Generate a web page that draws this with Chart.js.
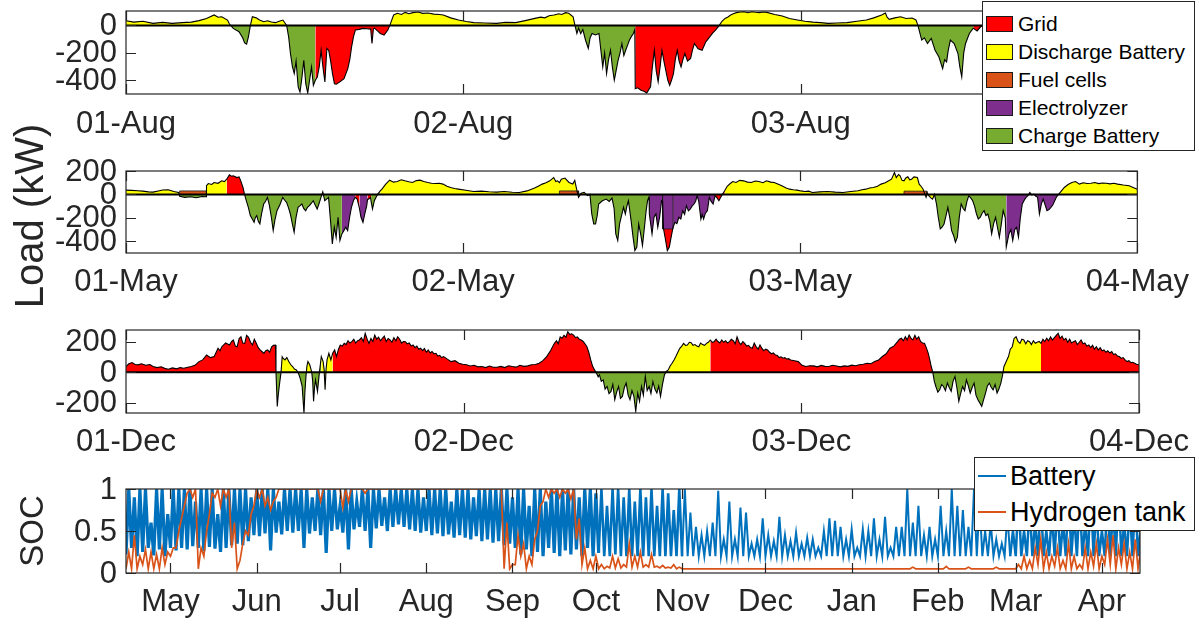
<!DOCTYPE html>
<html>
<head>
<meta charset="utf-8">
<title>Load by source and storage SOC</title>
<script src="https://cdn.jsdelivr.net/npm/chart.js@4.4.1/dist/chart.umd.min.js"></script>
<style>
  body { margin: 0; background: #fff; }
  #page { position: relative; width: 1200px; height: 621px; overflow: hidden;
          font-family: "Liberation Sans", Arial, sans-serif; }
  #page canvas { position: absolute; left: 0; }
  .ylab { position: absolute; transform: translate(-50%, -50%) rotate(-90deg);
          white-space: nowrap; color: #262626; line-height: 1; }
  .legend { position: absolute; background: #fff; border: 1px solid #262626;
            box-sizing: border-box; z-index: 5; color: #000; }
  .legend .row { position: absolute; left: 0; height: 30px; display: flex; align-items: center; white-space: nowrap; }
  .legend .patch { width: 27px; height: 16px; border: 1px solid #1a1a1a; box-sizing: border-box; margin-left: 3px; margin-right: 5px; }
  .legend .swatch { width: 28px; height: 2px; margin-left: 3px; margin-right: 4px; }
</style>
</head>
<body>
<div id="page">
  <canvas id="augChart" width="1200" height="157" style="top:-7px"></canvas>
  <canvas id="mayChart" width="1200" height="156" style="top:153px"></canvas>
  <canvas id="decChart" width="1200" height="157" style="top:312px"></canvas>
  <canvas id="socChart" width="1200" height="158" style="top:471px"></canvas>
  <div class="ylab" style="left:29px; top:216px; font-size:40px;">Load (kW)</div>
  <div class="ylab" style="left:31px; top:531px; font-size:33px;">SOC</div>
  <div class="legend" id="sourceLegend" style="left:982px; top:1px; width:213px; height:150px;"></div>
  <div class="legend" id="socLegend" style="left:974px; top:457px; width:221px; height:74px;"></div>
</div>

<script>
/* ================= DATA ================= */

// energy sources (legend order)
const sourceKeys = ['R', 'Y', 'F', 'P', 'G'];
const sourceNames = ['Grid', 'Discharge Battery', 'Fuel cells', 'Electrolyzer', 'Charge Battery'];
const sourceColors = ['#FF0000', '#FFFF00', '#D95319', '#7E2F8E', '#77AC30'];

// day tick labels, hours from start of window
const dayTickHours = [0, 24, 48, 72];
const augDays = ['01-Aug', '02-Aug', '03-Aug', '04-Aug'];
const mayDays = ['01-May', '02-May', '03-May', '04-May'];
const decDays = ['01-Dec', '02-Dec', '03-Dec', '04-Dec'];

// net load [hour, kW]
const augLoad = [[0,34],[0.56,24],[1.2,30],[1.92,15],[2.6,22],[3.28,15],[4,20],[4.64,24],[5.2,35],[5.73,51],[6.27,76],[6.55,60],[6.81,63],[7.22,39],[7.36,10],[7.63,-22],[8.04,-46],[8.3,-90],[8.44,-127],[8.58,-137],[8.71,-83],[8.85,0],[8.99,63],[9.26,55],[9.5,40],[9.8,27],[10.07,34],[10.35,25],[10.62,20],[10.9,30],[11.16,39],[11.43,0],[11.57,-83],[11.7,-205],[11.84,-300],[11.97,-351],[12.1,-260],[12.25,-449],[12.38,-486],[12.52,-376],[12.65,-254],[12.79,-425],[12.93,-493],[13.06,-400],[13.2,-303],[13.33,-437],[13.47,-400],[13.61,-376],[13.75,-300],[13.88,-181],[14.01,-303],[14.15,-412],[14.29,-168],[14.42,-181],[14.56,-260],[14.69,-351],[14.83,-425],[14.96,-429],[15.24,-410],[15.51,-388],[15.78,-315],[15.92,-250],[16.05,-156],[16.19,-80],[16.32,-34],[16.59,-29],[16.87,-22],[17.14,-24],[17.41,-27],[17.5,-132],[17.6,-25],[17.68,-20],[17.95,-45],[18.09,-59],[18.36,-71],[18.63,-34],[18.77,0],[19.04,76],[19.31,88],[19.6,80],[19.86,95],[20.13,85],[20.4,93],[20.8,98],[21.1,88],[21.48,90],[21.9,82],[22.3,80],[22.57,76],[23.1,55],[23.66,39],[24.2,28],[24.74,20],[25.5,18],[26.37,15],[27,22],[27.73,20],[28.4,35],[29.09,51],[29.5,60],[29.8,55],[30.1,70],[30.45,76],[30.8,85],[31,80],[31.27,93],[31.5,88],[31.81,63],[31.94,0],[32.08,-59],[32.2,-20],[32.35,-60],[32.5,-30],[32.7,-110],[32.89,-168],[33.02,-90],[33.16,-59],[33.4,-70],[33.65,-59],[33.92,-303],[34.05,-200],[34.19,-351],[34.33,-250],[34.47,-181],[34.6,-300],[34.74,-400],[34.87,-330],[35.01,-254],[35.15,-200],[35.28,-132],[35.42,-220],[35.55,-181],[35.7,-140],[35.82,-107],[35.96,-80],[36.1,-59],[36.2,-30],[36.23,-461],[36.4,-455],[36.64,-473],[36.85,-480],[37.05,-493],[37.18,-470],[37.32,-447],[37.45,-300],[37.59,-181],[37.72,-330],[37.86,-412],[38,-300],[38.13,-181],[38.27,-260],[38.4,-327],[38.55,-400],[38.68,-437],[38.81,-400],[38.95,-351],[39.08,-250],[39.22,-181],[39.35,-260],[39.49,-303],[39.62,-250],[39.76,-205],[39.95,-260],[40.17,-241],[40.3,-180],[40.44,-132],[40.7,-170],[40.99,-181],[41.25,-120],[41.53,-83],[41.75,-55],[41.94,-34],[42.21,0],[42.4,30],[42.62,51],[42.8,60],[43.02,76],[43.2,85],[43.43,93],[43.7,98],[43.97,100],[44.25,92],[44.52,100],[44.8,96],[45.06,93],[45.3,98],[45.6,95],[46.15,80],[46.69,68],[47.2,50],[47.78,39],[48.3,30],[48.87,24],[49.4,20],[49.95,15],[50.6,18],[51.31,20],[52,30],[52.67,39],[53.2,55],[53.76,76],[54.03,90],[54.15,60],[54.3,44],[54.7,55],[55.11,63],[55.5,50],[55.93,54],[56.2,40],[56.34,0],[56.61,-107],[56.8,-90],[57.02,-132],[57.29,-95],[57.56,-181],[57.83,-229],[58.1,-315],[58.24,-250],[58.38,-266],[58.5,-180],[58.65,-107],[58.92,-132],[59.19,-205],[59.32,-300],[59.46,-376],[59.6,-200],[59.73,-132],[60,-59],[60.28,-20],[60.55,-40],[60.8,-10],[61,0],[61.5,30],[62.5,45],[64,40],[66,55],[68,70],[70,60],[72,50]];
const augSwitch = [[0,'Y'],[7.36,'G'],[8.85,'Y'],[11.43,'G'],[13.47,'R'],[18.77,'Y'],[31.94,'G'],[36.23,'R'],[42.21,'Y'],[56.34,'G'],[60.28,'R'],[61,'Y']];
const augBands = [];

const mayLoad = [[0,37],[0.4,35],[0.84,31],[1.2,28],[1.6,22],[1.92,20],[2.3,30],[2.6,38],[3.01,40],[3.4,25],[3.75,17],[3.82,-15],[4.2,-25],[4.6,-20],[5,-28],[5.4,-18],[5.7,-20],[5.73,74],[5.86,93],[6.1,85],[6.27,102],[6.55,95],[6.81,116],[7,110],[7.17,130],[7.36,167],[7.5,155],[7.63,159],[7.9,144],[8.05,150],[8.17,116],[8.33,59],[8.44,0],[8.58,-60],[8.71,-110],[8.85,-180],[8.99,-210],[9.12,-238],[9.2,-200],[9.31,-181],[9.42,-230],[9.53,-252],[9.66,-160],[9.8,-82],[9.93,-60],[10.07,-25],[10.2,-90],[10.35,-195],[10.48,-309],[10.6,-220],[10.75,-139],[10.95,-90],[11.16,-25],[11.3,-50],[11.43,-68],[11.56,-110],[11.7,-167],[11.84,-250],[11.97,-323],[12.1,-200],[12.25,-110],[12.4,-95],[12.52,-82],[12.65,-120],[12.79,-139],[12.92,-110],[13.06,-96],[13.2,-75],[13.33,-54],[13.47,-90],[13.61,-125],[13.74,-80],[13.88,-25],[14.01,23],[14.15,-54],[14.28,-40],[14.42,-25],[14.56,-224],[14.69,-422],[14.76,-350],[14.83,-280],[14.96,-365],[15.1,-195],[15.23,-394],[15.37,-337],[15.51,-309],[15.64,-280],[15.78,-309],[15.92,-195],[16.05,-110],[16.19,-54],[16.32,-25],[16.46,-40],[16.62,-120],[16.73,-195],[16.87,-238],[17,-167],[17.14,-96],[17.2,-40],[17.27,-40],[17.41,-25],[17.45,-60],[17.55,-125],[17.68,-54],[17.82,-20],[17.95,8],[18.1,30],[18.22,45],[18.49,88],[18.77,122],[19.05,105],[19.31,110],[19.6,125],[19.86,116],[20.13,108],[20.4,102],[20.67,118],[20.94,122],[21.2,110],[21.48,102],[21.75,96],[22.03,93],[22.3,95],[22.57,88],[22.85,70],[23.11,59],[23.4,50],[23.66,45],[24.2,35],[24.74,25],[25.3,28],[25.83,23],[26.4,20],[26.92,25],[27.5,18],[28,17],[28.55,30],[29.09,54],[29.35,70],[29.63,88],[29.9,100],[30.17,116],[30.45,144],[30.6,110],[30.72,116],[30.86,100],[30.99,130],[31.25,140],[31.54,102],[31.81,88],[31.95,120],[32.08,45],[32.22,-25],[32.4,10],[32.62,17],[32.85,-10],[33.03,0],[33.16,-167],[33.3,-252],[33.43,-252],[33.55,-180],[33.65,-82],[33.92,-54],[34.19,-40],[34.4,-60],[34.6,-31],[34.75,-120],[34.87,-337],[35.01,-394],[35.14,-252],[35.28,-180],[35.42,-110],[35.55,-167],[35.66,-100],[35.77,-54],[35.96,-224],[36.1,-365],[36.23,-479],[36.37,-450],[36.5,-252],[36.64,-337],[36.77,-436],[36.91,-280],[37.02,-150],[37.13,-54],[37.24,-20],[37.26,-167],[37.45,-337],[37.59,-195],[37.73,-167],[37.86,-280],[37.99,-195],[38.13,-54],[38.2,-60],[38.27,-295],[38.4,-380],[38.54,-479],[38.68,-450],[38.81,-365],[38.95,-280],[39.08,-238],[39.22,-250],[39.36,-195],[39.5,-210],[39.63,-139],[39.77,-170],[39.9,-96],[40.04,-140],[40.17,-125],[40.3,-100],[40.44,-82],[40.55,-60],[40.66,-11],[40.77,-54],[40.93,-210],[41.02,-170],[41.12,-210],[41.25,-160],[41.39,-139],[41.53,-25],[41.66,-60],[41.8,-82],[41.94,-11],[42.08,-30],[42.21,-54],[42.4,-11],[42.62,31],[42.8,70],[43.02,93],[43.2,110],[43.43,102],[43.7,120],[43.97,116],[44.25,105],[44.52,102],[44.8,115],[45.06,110],[45.35,100],[45.6,116],[45.9,105],[46.15,102],[46.4,90],[46.69,74],[47,55],[47.24,45],[47.5,40],[47.78,37],[48.05,30],[48.32,25],[48.6,28],[48.87,17],[49.4,22],[49.95,25],[50.5,20],[51.04,17],[51.6,25],[52.12,31],[52.4,40],[52.67,45],[52.95,55],[53.21,59],[53.5,70],[53.76,88],[54.05,100],[54.3,116],[54.5,130],[54.71,187],[54.84,144],[55,170],[55.11,159],[55.25,120],[55.39,116],[55.52,140],[55.66,150],[55.8,125],[55.93,130],[56.1,150],[56.34,144],[56.47,88],[56.6,70],[56.75,45],[56.96,-25],[57.05,10],[57.15,-11],[57.3,-30],[57.42,-40],[57.56,0],[57.7,-80],[57.83,-195],[57.97,-295],[58.1,-280],[58.24,-252],[58.38,-180],[58.51,-110],[58.65,-200],[58.78,-309],[58.92,-350],[59.05,-408],[59.19,-365],[59.32,-200],[59.46,-82],[59.6,-120],[59.73,-139],[59.87,-60],[60,-11],[60.14,-30],[60.28,-54],[60.41,-100],[60.55,-167],[60.68,-210],[60.82,-195],[60.95,-160],[61.09,-139],[61.22,-180],[61.36,-167],[61.5,-230],[61.63,-337],[61.77,-250],[61.91,-195],[62.04,-280],[62.18,-365],[62.31,-260],[62.45,-139],[62.6,-200],[62.67,-450],[62.86,-337],[63,-300],[63.13,-394],[63.27,-300],[63.4,-280],[63.54,-365],[63.67,-200],[63.81,-82],[63.95,-50],[64.08,-25],[64.22,-10],[64.35,17],[64.49,-5],[64.63,3],[64.76,-15],[64.9,-25],[65.03,-167],[65.17,-80],[65.3,-40],[65.44,-90],[65.57,-139],[65.71,-130],[65.85,-110],[65.98,-90],[66.12,-54],[66.25,-20],[66.39,0],[66.6,30],[66.8,59],[67.07,85],[67.34,102],[67.6,110],[67.88,88],[68.15,100],[68.43,93],[68.7,96],[68.97,102],[69.25,92],[69.52,98],[69.79,96],[70.06,90],[70.33,95],[70.6,88],[71,80],[71.42,74],[71.7,60],[72,45]];
const maySwitch = [[0,'Y'],[3.82,'G'],[5.73,'Y'],[7.17,'R'],[8.44,'G'],[15.37,'P'],[16.28,'R'],[16.62,'P'],[17.2,'R'],[17.45,'G'],[18.05,'Y'],[33.03,'G'],[37.26,'P'],[38.2,'R'],[38.95,'P'],[41.85,'R'],[42.5,'Y'],[57.56,'G'],[62.67,'P'],[66.39,'Y']];
// stacked blocks on top of the net-load fill: [start h, end h, kW, source]
const mayBands = [[3.82,5.73,30,'F'],[30.86,32.22,30,'F'],[55.39,57.02,28,'F'],[38.2,38.95,-295,'P']];

const decLoad = [[0,37],[0.2,55],[0.43,63],[0.65,50],[0.84,48],[1.1,55],[1.4,45],[1.7,50],[1.92,37],[2.2,30],[2.5,35],[2.75,25],[3.01,19],[3.3,28],[3.6,22],[3.85,30],[4.1,26],[4.4,32],[4.64,37],[4.9,45],[5.19,69],[5.45,80],[5.73,112],[6,95],[6.27,102],[6.54,156],[6.68,140],[6.81,166],[7.08,190],[7.36,177],[7.5,200],[7.63,210],[7.77,170],[7.9,166],[8.04,220],[8.17,231],[8.3,190],[8.44,188],[8.57,240],[8.71,227],[8.85,195],[8.99,177],[9.12,215],[9.26,188],[9.4,160],[9.53,145],[9.66,135],[9.8,123],[9.93,140],[10.07,145],[10.21,130],[10.35,166],[10.48,175],[10.62,177],[10.66,0],[10.75,-223],[10.82,-150],[10.89,-93],[11.02,0],[11.1,100],[11.16,91],[11.3,80],[11.43,95],[11.57,69],[11.7,50],[11.84,37],[11.97,20],[12.11,15],[12.25,-6],[12.38,-40],[12.52,-93],[12.65,-266],[12.72,-120],[12.79,-28],[12.86,40],[12.93,69],[13.06,48],[13.2,0],[13.27,-60],[13.33,-190],[13.4,-100],[13.47,-50],[13.61,-125],[13.74,-6],[13.88,102],[14.01,69],[14.08,20],[14.15,-115],[14.22,20],[14.29,80],[14.42,123],[14.56,80],[14.69,123],[14.83,145],[14.96,102],[15.1,150],[15.23,177],[15.37,170],[15.51,188],[15.64,180],[15.78,205],[15.92,190],[16.05,199],[16.19,215],[16.32,190],[16.46,205],[16.59,210],[16.73,225],[16.87,200],[17,253],[17.14,215],[17.27,188],[17.41,220],[17.55,200],[17.68,242],[17.82,215],[17.95,228],[18.09,205],[18.22,221],[18.36,235],[18.49,200],[18.63,220],[18.77,210],[18.9,195],[19.04,225],[19.18,205],[19.31,231],[19.45,215],[19.58,190],[19.72,200],[19.86,199],[19.99,185],[20.13,190],[20.27,170],[20.4,177],[20.54,160],[20.67,170],[20.81,150],[20.94,156],[21.08,140],[21.21,155],[21.35,130],[21.48,145],[21.62,125],[21.75,135],[21.89,120],[22.03,123],[22.16,105],[22.3,110],[22.43,95],[22.57,102],[22.84,85],[23.11,69],[23.38,75],[23.66,58],[23.93,52],[24.2,48],[24.47,40],[24.74,45],[25.01,35],[25.29,37],[25.56,30],[25.83,40],[26.1,32],[26.37,32],[26.64,38],[26.92,30],[27.19,42],[27.46,37],[27.73,33],[28,45],[28.28,38],[28.55,41],[28.82,48],[29.09,50],[29.36,58],[29.63,75],[29.9,102],[30.17,140],[30.45,188],[30.6,205],[30.72,185],[30.86,230],[30.99,221],[31.13,240],[31.27,228],[31.4,264],[31.54,245],[31.67,250],[31.81,242],[31.95,225],[32.08,230],[32.22,215],[32.35,210],[32.49,200],[32.62,185],[32.76,166],[32.89,130],[33.03,80],[33.16,40],[33.3,15],[33.43,-6],[33.56,-30],[33.65,-17],[33.78,-60],[33.92,-50],[34.05,-110],[34.19,-93],[34.33,-140],[34.47,-125],[34.6,-80],[34.74,-179],[34.87,-130],[35.01,-93],[35.14,-170],[35.28,-158],[35.42,-100],[35.55,-71],[35.69,-150],[35.82,-179],[35.96,-120],[36.1,-158],[36.23,-255],[36.37,-136],[36.5,-190],[36.64,-93],[36.77,-150],[36.91,-28],[37.04,-120],[37.18,-93],[37.31,-140],[37.45,-61],[37.59,-110],[37.73,-136],[37.86,-90],[37.99,-158],[38.13,-80],[38.27,-17],[38.4,5],[38.54,15],[38.67,40],[38.81,58],[38.95,80],[39.08,102],[39.22,130],[39.36,156],[39.5,170],[39.63,188],[39.77,175],[39.9,177],[40.04,195],[40.17,192],[40.3,175],[40.44,180],[40.57,170],[40.71,166],[40.84,190],[40.98,180],[41.12,175],[41.26,188],[41.39,195],[41.53,210],[41.67,195],[41.8,199],[41.94,215],[42.07,200],[42.21,190],[42.34,210],[42.48,195],[42.62,205],[42.75,190],[42.89,199],[43.02,215],[43.16,205],[43.3,185],[43.43,231],[43.57,195],[43.7,180],[43.84,200],[43.97,188],[44.11,170],[44.25,175],[44.38,160],[44.52,156],[44.65,190],[44.79,165],[44.93,150],[45.06,177],[45.2,155],[45.33,140],[45.47,150],[45.6,145],[45.74,130],[45.88,120],[46.01,125],[46.15,112],[46.28,110],[46.42,95],[46.56,100],[46.69,91],[46.83,95],[46.97,85],[47.1,88],[47.24,80],[47.51,75],[47.78,69],[48.05,45],[48.32,37],[48.6,42],[48.87,41],[49.14,35],[49.41,44],[49.68,38],[49.95,37],[50.22,45],[50.5,40],[50.77,35],[51.04,41],[51.31,38],[51.58,46],[51.85,42],[52.12,48],[52.4,52],[52.67,58],[52.94,55],[53.21,69],[53.49,80],[53.76,102],[54.03,120],[54.3,156],[54.57,170],[54.84,199],[54.97,215],[55.11,221],[55.25,205],[55.39,231],[55.52,210],[55.66,242],[55.8,220],[55.93,210],[56.07,240],[56.2,215],[56.34,231],[56.47,200],[56.61,190],[56.75,188],[56.88,160],[57.02,123],[57.13,80],[57.23,37],[57.34,0],[57.45,-60],[57.56,-93],[57.7,-130],[57.83,-115],[57.97,-80],[58.1,-93],[58.24,-120],[58.38,-71],[58.51,-100],[58.65,-125],[58.78,-60],[58.92,-28],[59.05,-100],[59.19,-190],[59.32,-140],[59.46,-93],[59.6,-120],[59.73,-50],[59.87,-90],[60,-136],[60.14,-100],[60.28,-71],[60.41,-150],[60.55,-179],[60.68,-200],[60.82,-223],[60.95,-180],[61.09,-136],[61.22,-90],[61.36,-71],[61.5,-100],[61.63,-115],[61.77,-80],[61.91,-136],[62.04,-110],[62.18,-71],[62.3,-20],[62.4,37],[62.56,70],[62.72,102],[62.85,150],[62.99,166],[63.12,220],[63.26,231],[63.4,200],[63.54,188],[63.67,215],[63.81,210],[63.95,185],[64.08,205],[64.22,199],[64.35,180],[64.49,205],[64.63,188],[64.76,195],[64.9,200],[65.03,188],[65.17,215],[65.3,200],[65.44,221],[65.57,205],[65.71,230],[65.85,210],[65.98,225],[66.12,240],[66.25,253],[66.39,220],[66.53,235],[66.66,210],[66.8,221],[66.93,195],[67.07,215],[67.2,190],[67.34,199],[67.48,205],[67.61,180],[67.75,195],[67.88,210],[68.02,185],[68.15,190],[68.29,170],[68.43,177],[68.56,160],[68.7,175],[68.83,150],[68.97,166],[69.1,145],[69.24,160],[69.38,140],[69.51,145],[69.65,130],[69.78,140],[69.92,125],[70.06,134],[70.19,115],[70.33,120],[70.47,105],[70.6,102],[70.74,90],[70.87,95],[71.01,80],[71.15,69],[71.28,75],[71.42,62],[71.55,65],[71.69,58],[71.82,52],[72,48]];
const decSwitch = [[0,'R'],[10.66,'G'],[11.02,'Y'],[12.2,'G'],[12.82,'Y'],[13.2,'G'],[13.8,'Y'],[14.69,'R'],[33.38,'G'],[38.45,'Y'],[41.53,'R'],[57.34,'G'],[62.35,'Y'],[65.03,'R']];
const decBands = [];

// yearly SOC, one low/high pair every 2 days from 15-Apr
const socStepDays = 2;
const monthTickDays = [16, 47, 77, 108, 139, 169, 200, 230, 261, 292, 320, 351];
const monthNames = ['May', 'Jun', 'Jul', 'Aug', 'Sep', 'Oct', 'Nov', 'Dec', 'Jan', 'Feb', 'Mar', 'Apr'];
const socSeriesNames = ['Battery', 'Hydrogen tank'];
const socColors = ['#0072BD', '#D95319'];

const batteryHigh = [
  1,0.9,1,1,0.6,1,1,0.7,1,1,
  1,1,0.85,1,1,1,0.7,1,1,1,
  1,1,0.9,1,1,1,1,0.85,1,1,
  1,1,1,0.9,1,1,1,1,0.8,1,
  1,0.85,1,1,1,1,0.9,1,1,1,
  1,1,1,0.9,1,1,1,1,0.85,1,
  1,1,0.9,1,1,1,1,1,1,0.9,
  1,1,0.8,1,1,0.85,1,1,1,1,
  1,0.9,1,1,0.95,1,0.8,1,1,0.9,
  1,0.85,1,0.9,1,0.8,1,0.95,0.75,1,
  1,0.72,0.55,0.45,0.5,0.6,0.98,0.4,0.85,0.4,
  0.78,0.72,0.35,0.4,0.65,0.45,0.38,0.67,0.45,0.38,
  0.48,0.35,0.42,0.4,0.3,0.5,0.65,0.62,0.55,0.4,
  0.52,0.3,0.52,0.5,0.65,0.4,0.67,0.3,0.55,0.55,
  1,0.6,0.8,0.45,0.55,0.4,0.8,0.5,1,0.8,
  0.75,0.55,1,0.85,0.5,0.6,0.4,0.35,0.7,0.5,
  0.9,0.5,0.8,0.6,0.9,0.5,0.7,0.85,0.6,1,
  0.7,0.9,0.6,1,0.8,0.5,0.9,0.75,1,0.6,
  0.8,0.9,0.55];
const batteryLow = [
  0.22,0.3,0.2,0.25,0.3,0.21,0.28,0.2,0.3,0.27,
  0.3,0.28,0.32,0.3,0.26,0.31,0.29,0.25,0.3,0.33,
  0.35,0.33,0.38,0.45,0.44,0.47,0.27,0.48,0.46,0.5,
  0.48,0.5,0.3,0.47,0.5,0.45,0.24,0.5,0.52,0.48,
  0.28,0.52,0.55,0.5,0.3,0.53,0.56,0.5,0.55,0.58,
  0.55,0.52,0.5,0.48,0.5,0.45,0.47,0.44,0.46,0.42,
  0.45,0.42,0.4,0.44,0.38,0.4,0.36,0.38,0.33,0.35,
  0.3,0.22,0.28,0.2,0.25,0.2,0.3,0.24,0.2,0.27,
  0.22,0.28,0.2,0.3,0.2,0.24,0.2,0.2,0.22,0.2,
  0.2,0.2,0.2,0.2,0.2,0.2,0.2,0.2,0.2,0.2,
  0.2,0.2,0.2,0.2,0.2,0.2,0.2,0.2,0.2,0.2,
  0.2,0.2,0.2,0.2,0.2,0.2,0.2,0.2,0.2,0.2,
  0.2,0.2,0.2,0.2,0.2,0.2,0.2,0.2,0.2,0.2,
  0.2,0.2,0.2,0.2,0.2,0.2,0.2,0.2,0.2,0.2,
  0.2,0.2,0.2,0.2,0.2,0.2,0.2,0.2,0.2,0.2,
  0.2,0.2,0.2,0.2,0.2,0.2,0.2,0.2,0.2,0.2,
  0.2,0.2,0.2,0.2,0.2,0.2,0.2,0.2,0.2,0.2,
  0.2,0.2,0.2,0.2,0.2,0.2,0.2,0.2,0.2,0.2,
  0.2,0.2,0.2];
const hydrogenHigh = [
  0.25,0.45,0.2,0.28,0.25,0.22,0.3,0.25,0.3,0.5,
  0.8,1,1,0.3,0.5,0.95,1,1,1,0.6,
  0.15,0.5,0.7,1,1,0.9,0.85,1,1,1,
  1,1,1,1,1,1,1,1,1,1,
  1,1,1,1,1,1,1,1,1,1,
  1,1,1,1,1,1,1,1,1,1,
  1,1,1,1,1,1,1,1,0.6,0.1,
  0.45,0.35,0.2,0.4,0.8,1,1,1,1,1,
  1,0.65,0.3,0.15,0.2,0.1,0.08,0.2,0.17,0.1,
  0.35,0.2,0.25,0.1,0.22,0.08,0.09,0.07,0.1,0.07,
  0.05,0.05,0.05,0.05,0.05,0.05,0.05,0.05,0.05,0.05,
  0.05,0.05,0.05,0.05,0.05,0.05,0.05,0.05,0.05,0.05,
  0.05,0.05,0.05,0.05,0.05,0.05,0.05,0.05,0.05,0.05,
  0.05,0.05,0.05,0.05,0.05,0.05,0.05,0.05,0.05,0.05,
  0.05,0.07,0.05,0.05,0.05,0.05,0.05,0.08,0.05,0.05,
  0.05,0.07,0.05,0.05,0.05,0.05,0.07,0.05,0.05,0.05,
  0.1,0.2,0.15,0.3,0.4,0.25,0.2,0.3,0.15,0.35,
  0.2,0.1,0.3,0.25,0.35,0.2,0.4,0.45,0.3,0.35,
  0.25,0.4,0.3];
const hydrogenLow = [
  0.05,0.05,0.05,0.1,0.05,0.05,0.05,0.1,0.2,0.3,
  0.65,0.95,0.9,0.05,0.2,0.7,0.9,0.8,0.9,0.3,
  0.05,0.35,0.45,0.8,0.9,0.8,0.75,0.9,1,1,
  1,1,1,1,1,0.85,1,1,1,0.78,
  0.85,1,1,0.95,1,1,1,1,1,1,
  1,1,1,1,1,1,1,1,1,1,
  1,1,1,1,1,1,1,1,0.05,0.05,
  0.1,0.2,0.05,0.1,0.5,0.85,0.9,0.95,0.9,0.95,
  0.88,0.4,0.1,0.05,0.05,0.05,0.05,0.06,0.06,0.06,
  0.07,0.07,0.07,0.07,0.07,0.07,0.06,0.06,0.06,0.05,
  0.05,0.05,0.05,0.05,0.05,0.05,0.05,0.05,0.05,0.05,
  0.05,0.05,0.05,0.05,0.05,0.05,0.05,0.05,0.05,0.05,
  0.05,0.05,0.05,0.05,0.05,0.05,0.05,0.05,0.05,0.05,
  0.05,0.05,0.05,0.05,0.05,0.05,0.05,0.05,0.05,0.05,
  0.05,0.05,0.05,0.05,0.05,0.05,0.05,0.05,0.05,0.05,
  0.05,0.05,0.05,0.05,0.05,0.05,0.05,0.05,0.05,0.05,
  0.05,0.05,0.05,0.05,0.1,0.05,0.05,0.08,0.05,0.05,
  0.05,0.05,0.05,0.05,0.08,0.05,0.1,0.1,0.05,0.1,
  0.05,0.05,0.05];

/* ================= STYLE ================= */

const INK = '#262626';
const TICK_FONT = { family: '"Liberation Sans", Arial, sans-serif', size: 31 };
const PAD_TOP = 18;
const AXIS_LEFT = 126;
const PAD_RIGHT = 60;

const colorOf = k => sourceColors[sourceKeys.indexOf(k)];

// battery trace is drawn heavier where daily cycles pack tightly
function batteryWidth(day) {
  if (day < 170) return 3.2;
  if (day < 200) return 2.6;
  if (day < 318) return 2;
  return 2.5;
}

/* ================= MATLAB-LIKE BOX ================= */

// box, inward ticks on all four sides, y labels and the zero baseline
const matlabBox = {
  id: 'matlabBox',
  afterDatasetsDraw(chart, args, opts) {
    const { ctx, chartArea: a, scales: { x, y } } = chart;
    const L = 10;
    ctx.save();
    if (opts.zeroLine) {
      const y0 = y.getPixelForValue(0);
      ctx.strokeStyle = '#000';
      ctx.lineWidth = 2;
      ctx.beginPath();
      ctx.moveTo(a.left, y0);
      ctx.lineTo(a.right, y0);
      ctx.stroke();
    }
    ctx.strokeStyle = INK;
    ctx.lineWidth = 1.2;
    ctx.beginPath();
    x.ticks.forEach(t => {
      const px = Math.round(x.getPixelForValue(t.value)) + 0.5;
      ctx.moveTo(px, a.bottom); ctx.lineTo(px, a.bottom - L);
      ctx.moveTo(px, a.top); ctx.lineTo(px, a.top + L);
    });
    y.ticks.forEach(t => {
      const py = Math.round(y.getPixelForValue(t.value)) + 0.5;
      ctx.moveTo(a.left, py); ctx.lineTo(a.left + L, py);
      ctx.moveTo(a.right, py); ctx.lineTo(a.right - L, py);
    });
    ctx.stroke();
    ctx.strokeRect(a.left, a.top, a.right - a.left, a.bottom - a.top);

    ctx.fillStyle = INK;
    ctx.font = `${TICK_FONT.size}px ${TICK_FONT.family}`;
    ctx.textAlign = 'right';
    ctx.textBaseline = 'middle';
    y.ticks.forEach(t => ctx.fillText(String(t.value), a.left - 9, y.getPixelForValue(t.value) + 1));
    ctx.restore();
  }
};

function baseOptions(xCfg, yCfg, zeroLine, plotHeight, canvasHeight) {
  return {
    responsive: false,
    animation: false,
    devicePixelRatio: 1,
    layout: { padding: { top: PAD_TOP, right: PAD_RIGHT, left: 0, bottom: 0 }, autoPadding: false },
    elements: { point: { radius: 0 }, line: { tension: 0 } },
    plugins: { legend: { display: false }, tooltip: { enabled: false }, matlabBox: { zeroLine } },
    scales: {
      x: Object.assign({
        type: 'linear',
        grid: { display: false, drawTicks: false },
        border: { display: false },
        afterFit: s => { s.height = canvasHeight - PAD_TOP - plotHeight; }
      }, xCfg),
      y: Object.assign({
        grid: { display: false, drawTicks: false },
        border: { display: false },
        ticks: { display: false },
        afterFit: s => { s.width = AXIS_LEFT; }
      }, yCfg)
    }
  };
}

/* ================= LOAD PANELS ================= */

function sourceAt(switches, t) {
  let k = switches[0][1];
  for (const [s, c] of switches) if (t >= s) k = c;
  return k;
}

function loadChart(id, load, switches, bands, yMin, yMax, yTicks, dayLabels, xPad) {
  const canvas = document.getElementById(id);
  const keys = load.map(([t]) => sourceAt(switches, t));

  const datasets = [{
    data: load.map(([x, y]) => ({ x, y })),
    borderColor: '#000', borderWidth: 1.1, fill: false, order: 0
  }];
  bands.forEach(([t0, t1, v, k]) => datasets.push({
    data: [{ x: t0, y: 0 }, { x: t0, y: v }, { x: t1, y: v }, { x: t1, y: 0 }],
    borderColor: '#1a1a1a', borderWidth: 0.8,
    backgroundColor: colorOf(k), fill: 'origin', order: 1
  }));
  sourceKeys.forEach(k => {
    const data = load.map(([x, y], i) =>
      (keys[i] === k || (i > 0 && keys[i - 1] === k)) ? { x, y } : { x, y: null });
    datasets.push({
      data, borderWidth: 0, borderColor: 'rgba(0,0,0,0)',
      backgroundColor: colorOf(k), fill: 'origin', spanGaps: false, order: 2
    });
  });

  const plotH = canvas.height - PAD_TOP - 56;
  new Chart(canvas, {
    type: 'line',
    data: { datasets },
    options: baseOptions(
      {
        min: 0, max: 72,
        afterBuildTicks: s => { s.ticks = dayTickHours.map(v => ({ value: v })); },
        ticks: { autoSkip: false, maxRotation: 0, padding: xPad, font: TICK_FONT, color: INK,
                 callback: (v, i) => dayLabels[i] }
      },
      {
        min: yMin, max: yMax,
        afterBuildTicks: s => { s.ticks = yTicks.map(v => ({ value: v })); },
        ticks: { display: false }
      },
      true, plotH, canvas.height),
    plugins: [matlabBox]
  });
}

loadChart('augChart', augLoad, augSwitch, augBands, -500, 105, [-400, -200, 0], augDays, 12);
loadChart('mayChart', mayLoad, maySwitch, mayBands, -500, 200, [-400, -200, 0, 200], mayDays, 11);
loadChart('decChart', decLoad, decSwitch, decBands, -266, 275, [-200, 0, 200], decDays, 11);

/* ================= SOC PANEL ================= */

function zigzag(low, high) {
  const pts = [];
  low.forEach((v, i) => {
    pts.push({ x: i * socStepDays, y: v });
    pts.push({ x: i * socStepDays + socStepDays / 2, y: high[i] });
  });
  return pts;
}

(function socChart() {
  const canvas = document.getElementById('socChart');
  const plotH = canvas.height - PAD_TOP - 56;
  const batteryPts = zigzag(batteryLow, batteryHigh);
  new Chart(canvas, {
    type: 'line',
    data: {
      datasets: [
        { label: socSeriesNames[1], data: zigzag(hydrogenLow, hydrogenHigh),
          borderColor: socColors[1], borderWidth: 1.7, fill: false, order: 0 },
        { label: socSeriesNames[0], data: batteryPts,
          borderColor: socColors[0], borderWidth: 2, fill: false, order: 1,
          segment: { borderWidth: ctx => batteryWidth(batteryPts[ctx.p0DataIndex].x) } }
      ]
    },
    options: baseOptions(
      {
        min: 0, max: 364.7,
        afterBuildTicks: s => { s.ticks = monthTickDays.map(v => ({ value: v })); },
        ticks: { autoSkip: false, maxRotation: 0, padding: 11, font: TICK_FONT, color: INK,
                 callback: (v, i) => monthNames[i] }
      },
      {
        min: 0, max: 1,
        afterBuildTicks: s => { s.ticks = [0, 0.5, 1].map(v => ({ value: v })); },
        ticks: { display: false }
      },
      false, plotH, canvas.height),
    plugins: [matlabBox]
  });
})();

/* ================= LEGENDS ================= */

const srcLegend = document.getElementById('sourceLegend');
sourceNames.forEach((name, i) => {
  const row = document.createElement('div');
  row.className = 'row';
  row.style.top = (7 + i * 28) + 'px';
  row.style.fontSize = '21px';
  row.innerHTML = `<span class="patch" style="background:${sourceColors[i]}"></span><span>${name}</span>`;
  srcLegend.appendChild(row);
});

const socLegend = document.getElementById('socLegend');
socSeriesNames.forEach((name, i) => {
  const row = document.createElement('div');
  row.className = 'row';
  row.style.top = (3 + i * 36) + 'px';
  row.style.fontSize = '27px';
  row.innerHTML = `<span class="swatch" style="background:${socColors[i]}"></span><span>${name}</span>`;
  socLegend.appendChild(row);
});
</script>
</body>
</html>
